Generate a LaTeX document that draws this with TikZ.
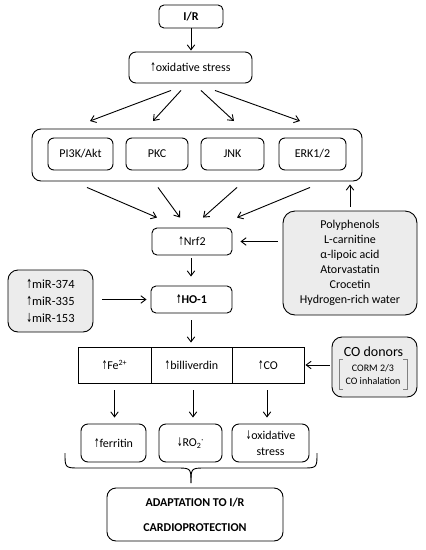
\documentclass[tikz,border=0pt]{standalone}
\usepackage{fontspec}
\usepackage{graphicx}
\setmainfont{Carlito}
\newfontfamily\symfont{DejaVu Sans}
\newcommand\UA{{\symfont\scalebox{0.55}[1]{↑}}}
\newcommand\DA{{\symfont\scalebox{0.55}[1]{↓}}}
\usetikzlibrary{arrows.meta,calc}
\definecolor{boxgray}{RGB}{236,236,236}
\tikzset{
  rbox/.style={draw, rounded corners=5pt, line width=0.9pt, align=center, inner sep=0pt,
    font=\fontsize{12}{15}\selectfont},
  gbox/.style={rbox, fill=boxgray, rounded corners=12pt},
  cell/.style={draw, line width=0.9pt, inner sep=0pt, font=\fontsize{12}{15}\selectfont},
  arr/.style={-{Straight Barb[length=5pt,width=7.5pt]}, line width=0.9pt},
  brk/.style={draw=gray, line width=0.6pt},
}
\begin{document}
\begin{tikzpicture}[x=1pt,y=-1pt]
\useasboundingbox (0,0) rectangle (426,550);

% top
\node[rbox, font=\bfseries\fontsize{12}{15}\selectfont, minimum width=64pt, minimum height=23pt] (ir) at (191,16.5) {I/R};
\node[rbox, minimum width=123pt, minimum height=31pt, rounded corners=7pt] (oxi) at (190.5,67.5) {\UA oxidative stress};
\draw[arr] (ir.south) -- ($(ir.south |- oxi.north)+(0,-1)$);

% kinase group
\node[rbox, minimum width=330pt, minimum height=52pt, rounded corners=9pt] (big) at (197,155) {};
\node[rbox, minimum width=65pt, minimum height=32pt, rounded corners=6pt] (pi3k) at (80.5,154) {PI3K/Akt};
\node[rbox, minimum width=62pt, minimum height=32pt, rounded corners=6pt] (pkc) at (157,154) {PKC};
\node[rbox, minimum width=63pt, minimum height=32pt, rounded corners=6pt] (jnk) at (232.5,154) {JNK};
\node[rbox, minimum width=67pt, minimum height=32pt, rounded corners=6pt] (erk) at (312.5,154) {ERK1/2};

\coordinate (t1) at (90,121);
\coordinate (t2) at (153,121);
\coordinate (t3) at (234,121);
\coordinate (t4) at (300,121);
\draw[arr] ($(oxi.south)+(-19.5,7)$) -- (t1);
\draw[arr] ($(oxi.south)+(-9.5,7)$) -- (t2);
\draw[arr] ($(oxi.south)+(10.5,7)$) -- (t3);
\draw[arr] ($(oxi.south)+(24.5,7)$) -- (t4);

% Nrf2
\node[rbox, minimum width=80pt, minimum height=27pt] (nrf2) at (192,241.5) {\UA Nrf2};
\draw[arr] ($(big.south)+(-110,6)$) -- ($(nrf2.north)+(-35,-10)$);
\draw[arr] ($(big.south)+(-39,6)$) -- ($(nrf2.north)+(-12,-10)$);
\draw[arr] ($(big.south)+(40,6)$) -- ($(nrf2.north)+(11,-10)$);
\draw[arr] ($(big.south)+(113,6)$) -- ($(nrf2.north)+(45,-10)$);

% compounds
\node[gbox, minimum width=134pt, minimum height=104pt] (poly) at (350,263)
  {Polyphenols\\L-carnitine\\α-lipoic acid\\Atorvastatin\\Crocetin\\Hydrogen-rich water};
\draw[arr] ($(poly.west |- nrf2.east)+(-5,0)$) -- ($(nrf2.east)+(8,0)$);
\draw[arr] ($(poly.north)+(0,-4)$) -- ($(big.south -| poly.north)+(0,3)$);

% HO-1
\node[rbox, font=\bfseries\fontsize{12}{15}\selectfont, minimum width=81pt, minimum height=27pt] (ho1) at (191.5,299.5) {\UA HO-1};
\draw[arr] ($(nrf2.south)+(-1,3)$) -- ($(ho1.north)+(-0.5,-9)$);

\node[gbox, align=left, font=\fontsize{12.5}{17}\selectfont, minimum width=85pt, minimum height=62pt, rounded corners=10pt] (mir) at (50.5,301)
  {\UA miR-374\\\UA miR-335\\\DA miR-153};
\draw[arr] ($(mir.east |- ho1.west)+(9,0)$) -- ($(ho1.west)+(-4,0)$);

% products row
\node[cell, minimum width=73pt, minimum height=36pt] (fe) at (114.5,365) {\UA Fe\textsuperscript{2+}};
\node[cell, minimum width=81pt, minimum height=36pt] (bill) at (191.5,365) {\UA billiverdin};
\node[cell, minimum width=72pt, minimum height=36pt] (co) at (268,365) {\UA CO};
\draw[arr] ($(ho1.south)+(-0.5,7)$) -- ($(ho1.south |- bill.north)+(-0.5,-4)$);

% CO donors
\node[gbox, minimum width=85pt, minimum height=60pt, rounded corners=10pt] (codon) at (374.5,367) {};
\node[font=\fontsize{14}{15}\selectfont, inner sep=0pt] (codont) at (373.5,352) {CO donors};
\node[font=\fontsize{10}{13}\selectfont, align=center, minimum width=68pt, minimum height=30pt, inner sep=0pt] (codoni) at (373,374.5) {CORM 2/3\\CO inhalation};
\draw[brk] ($(codoni.north west)+(4,0)$) -- (codoni.north west) -- (codoni.south west) -- ++(4,0);
\draw[brk] ($(codoni.north east)+(-4,0)$) -- (codoni.north east) -- (codoni.south east) -- ++(-4,0);
\draw[arr] ($(codon.west |- co.east)+(-2,0)$) -- ($(co.east)+(1,0)$);

% outcomes
\node[rbox, minimum width=65pt, minimum height=38pt, rounded corners=7pt] (ferr) at (113.5,443) {\UA ferritin};
\node[rbox, minimum width=63pt, minimum height=38pt, rounded corners=7pt] (ro2) at (190.5,443) {\DA RO\textsubscript{2}\textsuperscript{·}};
\node[rbox, minimum width=77pt, minimum height=38pt, rounded corners=7pt, font=\fontsize{12}{16}\selectfont] (ost) at (270.5,443) {\DA oxidative\\stress};
\draw[arr] ($(fe.south)+(0,7)$) -- ($(fe.south |- ferr.north)+(0,-6)$);
\draw[arr] ($(bill.south)+(1.5,7)$) -- ($(bill.south |- ro2.north)+(1.5,-6)$);
\draw[arr] ($(co.south)+(-1,7)$) -- ($(co.south |- ost.north)+(-1,-6)$);

% brace
\coordinate (bl) at (65,453);
\coordinate (br) at (317,453);
\coordinate (btip) at (191,483);
\draw[line width=0.9pt] (bl) .. controls (65,468) .. (80,468) -- (176,468) .. controls (191,468) .. (btip);
\draw[line width=0.9pt] (br) .. controls (317,468) .. (302,468) -- (206,468) .. controls (191,468) .. (btip);

% adaptation
\node[rbox, minimum width=176pt, minimum height=53pt, rounded corners=9pt, font=\bfseries\fontsize{12}{25}\selectfont] (adapt) at (195,514.5) {ADAPTATION TO I/R\\CARDIOPROTECTION};
\end{tikzpicture}
\end{document}
